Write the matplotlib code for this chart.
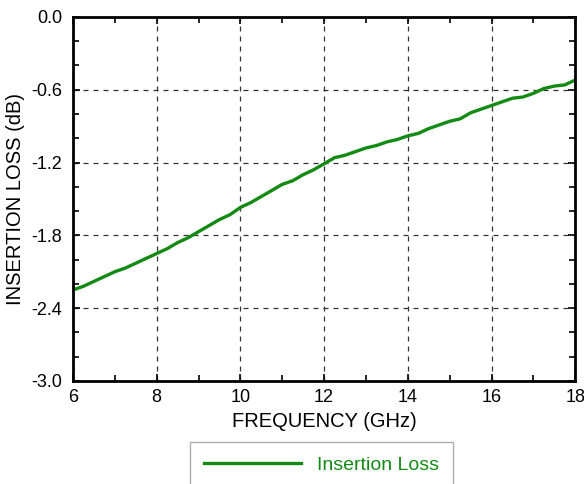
# Insertion loss vs frequency

import matplotlib
matplotlib.use('Agg')
import matplotlib.pyplot as plt
from matplotlib.ticker import MultipleLocator, FuncFormatter

plt.rcParams['font.family'] = ['Liberation Sans', 'DejaVu Sans']
plt.rcParams['axes.unicode_minus'] = False

# Data
freq = [6.0, 6.25, 6.5, 6.75, 7.0, 7.25, 7.5, 7.75, 8.0, 8.25, 8.5, 8.75,
        9.0, 9.25, 9.5, 9.75, 10.0, 10.25, 10.5, 10.75, 11.0, 11.25, 11.5, 11.75,
        12.0, 12.25, 12.5, 12.75, 13.0, 13.25, 13.5, 13.75, 14.0, 14.25, 14.5, 14.75,
        15.0, 15.25, 15.5, 15.75, 16.0, 16.25, 16.5, 16.75, 17.0, 17.25, 17.5, 17.75, 18.0]
loss = [-2.25, -2.22, -2.18, -2.14, -2.10, -2.07, -2.03, -1.99, -1.95, -1.91, -1.86, -1.82,
        -1.77, -1.72, -1.67, -1.63, -1.57, -1.53, -1.48, -1.43, -1.38, -1.35, -1.30, -1.26,
        -1.21, -1.16, -1.14, -1.11, -1.08, -1.06, -1.03, -1.01, -0.98, -0.96, -0.92, -0.89,
        -0.86, -0.84, -0.79, -0.76, -0.73, -0.70, -0.67, -0.66, -0.63, -0.59, -0.57, -0.56, -0.52]

fig = plt.figure(figsize=(5.84, 4.84), dpi=100)
ax = fig.add_axes([0.125, 0.213, 0.86, 0.752])

ax.plot(freq, loss, color='#138a13', linewidth=2.4, label='Insertion Loss')

ax.set_xlim(6, 18)
ax.set_ylim(-3.0, 0.0)
ax.xaxis.set_major_locator(MultipleLocator(2))
ax.xaxis.set_minor_locator(MultipleLocator(1))
ax.yaxis.set_major_locator(MultipleLocator(0.6))
ax.yaxis.set_minor_locator(MultipleLocator(0.2))
ax.yaxis.set_major_formatter(FuncFormatter(lambda v, p: '%.1f' % (0.0 if abs(v) < 1e-9 else v)))

ax.grid(True, which='major', color='#333333', linestyle=(0, (4, 4)), linewidth=0.9)
ax.tick_params(which='both', direction='in', top=True, right=True, labelsize=13)
ax.tick_params(axis='y', which='major', pad=8)
ax.tick_params(axis='x', which='major', pad=6)
ax.tick_params(which='major', length=5, width=1.2)
ax.tick_params(which='minor', length=4, width=1.2)
for s in ax.spines.values():
    s.set_linewidth(2)

ax.set_xlabel('FREQUENCY (GHz)', fontsize=14.5, labelpad=4)
ax.set_ylabel('INSERTION LOSS (dB)', fontsize=14.5, labelpad=4)

leg = fig.legend(loc='upper center', bbox_to_anchor=(321.5 / 584, 1 - 442 / 484), fontsize=14,
                 handlelength=5.0, borderpad=0.75, fancybox=False, edgecolor='#999999',
                 labelcolor='#138a13', borderaxespad=0, handletextpad=0.8)
leg.get_frame().set_linewidth(1)

fig.savefig('out.png', dpi=100)
